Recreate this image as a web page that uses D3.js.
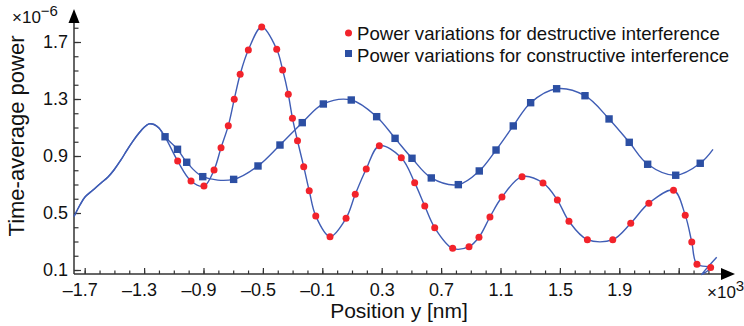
<!DOCTYPE html>
<html>
<head>
<meta charset="utf-8">
<script src="https://cdn.jsdelivr.net/npm/d3@7"></script>
<style>
  body { margin: 0; background: #fff; }
  text { font-family: "Liberation Sans", Arial, sans-serif; fill: #111; }
</style>
</head>
<body>
<div class="chart"></div>
<script>
var width = 744,
  height = 326

// values (x in 10^3 nm units, y in 10^-6)
// line only, shared left part of both curves
var leadX = [-1.772, -1.732, -1.698, -1.644, -1.590, -1.543, -1.503, -1.456, -1.415, -1.375, -1.334, -1.301, -1.267, -1.233, -1.200]
var leadY = [0.475, 0.556, 0.612, 0.661, 0.711, 0.753, 0.802, 0.872, 0.942, 1.005, 1.061, 1.100, 1.125, 1.121, 1.096]

// constructive interference (blue squares)
var consX = [-1.159, -1.075, -1.013, -0.905, -0.697, -0.533, -0.385, -0.235, -0.093, 0.095, 0.266, 0.390, 0.504, 0.634, 0.816, 0.957, 1.070, 1.186, 1.303, 1.478, 1.669, 1.831, 1.967, 2.091, 2.280, 2.445]
var consY = [1.035, 0.947, 0.856, 0.755, 0.736, 0.830, 0.977, 1.134, 1.265, 1.293, 1.176, 1.024, 0.884, 0.746, 0.699, 0.795, 0.942, 1.111, 1.274, 1.372, 1.323, 1.160, 0.996, 0.842, 0.765, 0.849]
var consTailX = [2.531]
var consTailY = [0.947]

// destructive interference (red circles)
var destX = [-1.074, -0.984, -0.897, -0.829, -0.782, -0.733, -0.693, -0.653, -0.598, -0.508, -0.407, -0.367, -0.329, -0.301, -0.267, -0.225, -0.188, -0.144, -0.048, 0.060, 0.122, 0.196, 0.284, 0.432, 0.522, 0.590, 0.657, 0.778, 0.888, 0.955, 1.029, 1.110, 1.245, 1.386, 1.483, 1.561, 1.685, 1.856, 1.977, 2.099, 2.265, 2.344, 2.388, 2.423, 2.515]
var destY = [0.865, 0.725, 0.689, 0.802, 0.958, 1.113, 1.298, 1.474, 1.644, 1.805, 1.649, 1.504, 1.333, 1.165, 1.007, 0.825, 0.656, 0.479, 0.334, 0.463, 0.631, 0.809, 0.972, 0.888, 0.713, 0.549, 0.397, 0.252, 0.264, 0.330, 0.472, 0.612, 0.755, 0.711, 0.591, 0.442, 0.313, 0.313, 0.428, 0.569, 0.660, 0.485, 0.296, 0.140, 0.118]
var destTailX = [2.454, 2.556]
var destTailY = [0.068, 0.189]

var xTicks = [-1.7, -1.3, -0.9, -0.5, -0.1, 0.3, 0.7, 1.1, 1.5, 1.9]
var yTicks = [0.1, 0.5, 0.9, 1.3, 1.7]
var legendLabels = ['Power variations for destructive interference', 'Power variations for constructive interference']

var svg = d3.select('.chart')
  .append('svg')
  .attr('width', width)
  .attr('height', height)

var xScale = d3.scaleLinear().domain([-1.7, 1.9]).range([84.7, 619.3])
var yScale = d3.scaleLinear().domain([0.1, 1.7]).range([270, 42])

var x0 = 74, y0 = 274, xEnd = 735, yTop = 9
var axisColor = '#333'

function pts(xs, ys) { return xs.map(function(d, i) { return [d, ys[i]] }) }

var lead = pts(leadX, leadY)
var cons = pts(consX, consY)
var dest = pts(destX, destY)

var line = d3.line()
  .x(function(d) { return xScale(d[0]) })
  .y(function(d) { return yScale(d[1]) })
  .curve(d3.curveCatmullRom.alpha(0.5))

//AXES
// minor ticks every 0.1
var xMinor = d3.range(-17, 26).map(function(d) { return d / 10 })
var yMinor = d3.range(1, 19).map(function(d) { return d / 10 })

var xAxisMinor = svg.append('g')
  .attr('transform', 'translate(0,' + y0 + ')')
  .call(d3.axisBottom(xScale).tickValues(xMinor).tickSize(-3.5).tickFormat(''))
var xAxis = svg.append('g')
  .attr('transform', 'translate(0,' + y0 + ')')
  .call(d3.axisBottom(xScale).tickValues(xTicks.concat([2.3])).tickSize(-6).tickPadding(9)
    .tickFormat(function(d) { return d == 2.3 ? '' : (d < 0 ? '\u2013' + d3.format('.1f')(-d) : d3.format('.1f')(d)) }))
var yAxisMinor = svg.append('g')
  .attr('transform', 'translate(' + x0 + ',0)')
  .call(d3.axisLeft(yScale).tickValues(yMinor).tickSize(-4.5).tickFormat(''))
var yAxis = svg.append('g')
  .attr('transform', 'translate(' + x0 + ',0)')
  .call(d3.axisLeft(yScale).tickValues(yTicks).tickSize(-7).tickPadding(6).tickFormat(d3.format('.1f')))

svg.selectAll('.domain').remove()
svg.selectAll('.tick line').attr('stroke', axisColor).attr('stroke-width', 1.2)
svg.selectAll('.tick text').style('font-size', '18px').attr('fill', '#111')
xAxis.selectAll('.tick text').attr('dx', function(d) { return d < 0 ? -5 : 0 })
yAxis.selectAll('.tick text').attr('x', -6)

svg.append('line').attr('x1', x0).attr('x2', xEnd - 12).attr('y1', y0).attr('y2', y0)
  .attr('stroke', axisColor).attr('stroke-width', 1.5)
svg.append('line').attr('x1', x0).attr('x2', x0).attr('y1', y0).attr('y2', yTop + 12)
  .attr('stroke', axisColor).attr('stroke-width', 1.5)
svg.append('path').attr('d', 'M' + xEnd + ',' + y0 + 'L' + (xEnd - 14) + ',' + (y0 - 6) + 'L' + (xEnd - 14) + ',' + (y0 + 6) + 'Z').attr('fill', '#000')
svg.append('path').attr('d', 'M' + x0 + ',' + yTop + 'L' + (x0 - 5.5) + ',' + (yTop + 14) + 'L' + (x0 + 5.5) + ',' + (yTop + 14) + 'Z').attr('fill', '#000')

// multipliers
var my = svg.append('text').attr('x', 12).attr('y', 23).style('font-size', '17px')
my.append('tspan').text('\u00d710')
my.append('tspan').attr('dy', -7).style('font-size', '15px').text('\u22126')
var mx = svg.append('text').attr('x', 707).attr('y', 298).style('font-size', '17px')
mx.append('tspan').text('\u00d710')
mx.append('tspan').attr('dy', -7).style('font-size', '15px').text('3')

// axis titles
svg.append('text').attr('x', 399).attr('y', 318).attr('text-anchor', 'middle')
  .style('font-size', '21px').text('Position y [nm]')
svg.append('text').attr('transform', 'translate(24,136) rotate(-90)').attr('text-anchor', 'middle')
  .style('font-size', '22px').text('Time-average power')

//LINES
var lineColor = '#3f5db5'
svg.append('path')
  .attr('d', line(lead.concat(cons, pts(consTailX, consTailY))))
  .attr('fill', 'none').attr('stroke', lineColor).attr('stroke-width', 1.4)
svg.append('path')
  .attr('d', line(lead.concat([cons[0]], dest, pts(destTailX, destTailY))))
  .attr('fill', 'none').attr('stroke', lineColor).attr('stroke-width', 1.4)

//MARKERS
svg.selectAll('rect.cons')
  .data(cons)
  .enter()
  .append('rect')
  .attr('class', 'cons')
  .attr('x', function(d) { return xScale(d[0]) - 3.7 })
  .attr('y', function(d) { return yScale(d[1]) - 3.7 })
  .attr('width', 7.4)
  .attr('height', 7.4)
  .attr('fill', '#2c4fa3')

svg.selectAll('circle.dest')
  .data(dest)
  .enter()
  .append('circle')
  .attr('class', 'dest')
  .attr('cx', function(d) { return xScale(d[0]) })
  .attr('cy', function(d) { return yScale(d[1]) })
  .attr('r', 3.5)
  .attr('fill', '#f2232b')

//LEGEND
var legend = svg.append('g')
legend.append('circle').attr('cx', 348.5).attr('cy', 33).attr('r', 3.5).attr('fill', '#f2232b')
legend.append('rect').attr('x', 345).attr('y', 50).attr('width', 7).attr('height', 7).attr('fill', '#2c4fa3')
legend.selectAll('text.leg')
  .data(legendLabels)
  .enter()
  .append('text')
  .attr('class', 'leg')
  .attr('x', 357)
  .attr('y', function(d, i) { return 40 + i * 21.5 })
  .style('font-size', '18.6px')
  .text(function(d) { return d })
</script>
</body>
</html>
